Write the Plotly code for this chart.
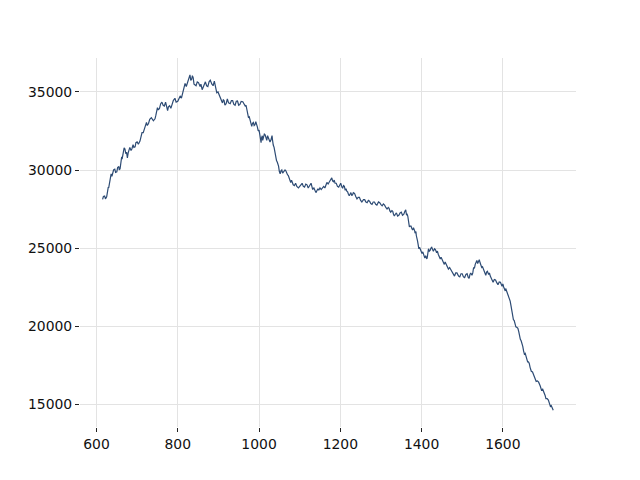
import plotly.graph_objects as go

x_values = [615, 620, 625, 629, 632, 636, 640, 645, 650, 655, 658, 662, 665, 668, 672, 676, 680, 685, 690, 695,
            700, 707, 712, 718, 723, 728, 735, 744, 748, 752, 758, 764, 770, 775, 780, 786, 793, 800, 806, 812,
            818, 824, 830, 834, 838, 842, 848, 855, 860, 865, 871, 877, 884, 890, 896, 902, 908, 912, 916, 922,
            929, 935, 941, 947, 953, 960, 966, 970, 974, 978, 982, 986, 990, 994, 998, 1002, 1005, 1008, 1011, 1015,
            1019, 1023, 1027, 1031, 1033, 1035, 1039, 1043, 1048, 1052, 1056, 1060, 1064, 1068, 1072, 1076, 1080, 1084, 1090, 1097,
            1103, 1109, 1115, 1121, 1126, 1130, 1135, 1140, 1145, 1150, 1156, 1162, 1167, 1173, 1179, 1183, 1187, 1193, 1199, 1204,
            1208, 1212, 1216, 1220, 1224, 1228, 1232, 1238, 1244, 1250, 1257, 1263, 1269, 1275, 1281, 1287, 1294, 1300, 1306, 1312,
            1318, 1322, 1327, 1331, 1335, 1341, 1347, 1353, 1359, 1363, 1366, 1369, 1372, 1376, 1380, 1383, 1386, 1389, 1392, 1395,
            1399, 1403, 1407, 1410, 1413, 1416, 1419, 1423, 1427, 1432, 1437, 1441, 1446, 1451, 1456, 1461, 1466, 1472, 1478, 1484,
            1491, 1497, 1503, 1509, 1515, 1519, 1524, 1528, 1532, 1536, 1540, 1544, 1548, 1552, 1556, 1560, 1565, 1569, 1573, 1579,
            1585, 1591, 1598, 1602, 1606, 1609, 1612, 1615, 1618, 1622, 1626, 1630, 1635, 1639, 1643, 1647, 1651, 1655, 1659, 1663,
            1667, 1673, 1679, 1685, 1692, 1698, 1704, 1709, 1715, 1719, 1724]

y_values = [28120, 28330, 28280, 28900, 29180, 29750, 29820, 30050, 29880, 30220, 30080, 30850, 30950, 31420, 31050, 30780, 31300, 31250, 31620, 31480,
            31800, 31850, 32400, 32650, 33050, 32980, 33350, 33280, 33800, 33850, 34250, 34150, 34350, 33800, 34120, 34200, 34600, 34400, 34750, 34900,
            35550, 35600, 36100, 35800, 35900, 35450, 35650, 35350, 35150, 35550, 35400, 35650, 35500, 35700, 34950, 34800, 34350, 34500, 34150, 34550,
            34250, 34450, 34150, 34420, 34200, 34380, 34100, 33900, 33350, 33150, 32800, 33050, 32900, 32950, 32500, 32250, 31750, 32200, 32050, 32250,
            31900, 32100, 31800, 32150, 31950, 31600, 31150, 30600, 30250, 29750, 30000, 29850, 30000, 29800, 29650, 29300, 29350, 29050, 29150, 28850,
            29100, 28950, 29100, 28850, 29050, 28950, 28850, 28550, 28800, 28850, 28900, 28850, 29200, 29250, 29500, 29250, 29150, 28950, 29100, 28900,
            29000, 28700, 28650, 28450, 28450, 28380, 28550, 28300, 28250, 28050, 28100, 27950, 28050, 27850, 27950, 27800, 27950, 27780, 27820, 27600,
            27600, 27380, 27400, 27150, 27150, 27050, 27250, 27100, 27350, 27100, 27050, 26550, 26400, 26250, 26300, 26100, 26050, 25650, 25150, 25050,
            24800, 24750, 24450, 24500, 24300, 24700, 24800, 25000, 24900, 24950, 24700, 24600, 24300, 24250, 23950, 23900, 23650, 23600, 23300, 23400,
            23200, 23350, 23150, 23300, 23100, 23300, 23250, 23750, 23950, 24200, 24150, 24050, 23750, 23650, 23350, 23450, 23300, 23200, 22900, 22980,
            22780, 22820, 22550, 22500, 22250, 22250, 22050, 21850, 21600, 20900, 20400, 20200, 19900, 19650, 19150, 18900, 18400, 18250, 17850, 17700,
            17350, 17050, 16600, 16480, 16150, 15950, 15550, 15350, 15000, 14900, 14600]

# additional readings between the points above (the fine jagged texture)
x_between = [617, 622, 627, 630, 634, 638, 642, 647, 652, 656, 660, 663, 666, 670, 674, 678, 682, 687, 692, 697,
             703, 710, 715, 720, 725, 731, 740, 746, 750, 755, 761, 767, 772, 777, 783, 789, 796, 803, 809, 815,
             821, 827, 832, 836, 840, 845, 851, 857, 862, 868, 874, 880, 887, 893, 899, 905, 910, 914, 919, 925,
             932, 938, 944, 950, 956, 963, 968, 972, 976, 980, 984, 988, 992, 996, 1000, 1003, 1006, 1009, 1013, 1017,
             1021, 1025, 1029, 1032, 1034, 1037, 1041, 1045, 1050, 1054, 1058, 1062, 1066, 1070, 1074, 1078, 1082, 1087, 1093, 1100,
             1106, 1112, 1118, 1123, 1128, 1132, 1137, 1142, 1147, 1153, 1159, 1164, 1170, 1176, 1181, 1185, 1190, 1196, 1201, 1206,
             1210, 1214, 1218, 1222, 1226, 1230, 1235, 1241, 1247, 1253, 1260, 1266, 1272, 1278, 1284, 1290, 1297, 1303, 1309, 1315,
             1320, 1324, 1329, 1333, 1338, 1344, 1350, 1356, 1361, 1364, 1367, 1370, 1374, 1378, 1381, 1384, 1387, 1390, 1393, 1397,
             1401, 1405, 1408, 1411, 1414, 1417, 1421, 1425, 1429, 1434, 1439, 1443, 1448, 1453, 1458, 1463, 1469, 1475, 1481, 1487,
             1494, 1500, 1506, 1512, 1517, 1521, 1526, 1530, 1534, 1538, 1542, 1546, 1550, 1554, 1558, 1562, 1567, 1571, 1576, 1582,
             1588, 1594, 1600, 1604, 1607, 1610, 1613, 1616, 1620, 1624, 1628, 1632, 1637, 1641, 1645, 1649, 1653, 1657, 1661, 1665,
             1670, 1676, 1682, 1688, 1695, 1701, 1706, 1712, 1717, 1721]

y_between = [28300, 28150, 28700, 28850, 29600, 29600, 30000, 29850, 30150, 30000, 30600, 30700, 31300, 31350, 31150, 31100, 31450, 31350, 31450, 31750,
             31650, 32200, 32400, 32900, 32850, 33250, 33150, 33500, 34000, 33950, 34350, 34100, 34150, 34050, 33950, 34450, 34350, 34650, 34600, 35300,
             35350, 35700, 35750, 36050, 35500, 35400, 35600, 35500, 35300, 35650, 35350, 35750, 35400, 35400, 35000, 34650, 34300, 34450, 34250, 34300,
             34450, 34200, 34400, 34150, 34400, 34200, 34150, 33550, 33400, 32850, 33000, 32850, 33100, 32750, 32550, 32050, 32050, 31900, 32300, 31950,
             32200, 32000, 31900, 32200, 31700, 31450, 30750, 30500, 29900, 29950, 29800, 29950, 29950, 29700, 29450, 29200, 29200, 29000, 28950, 28950,
             29150, 28900, 29050, 28950, 29150, 28750, 28750, 28650, 28700, 28750, 28950, 29050, 29100, 29350, 29300, 29350, 29150, 28900, 29150, 28850,
             28950, 28800, 28600, 28350, 28550, 28400, 28500, 28150, 28250, 27950, 28100, 27900, 28000, 27800, 27950, 27750, 27900, 27700, 27750, 27500,
             27550, 27300, 27350, 27050, 27250, 27100, 27300, 27150, 27450, 27200, 26750, 26350, 26400, 26150, 26250, 25950, 25800, 25450, 24950, 24950,
             24650, 24600, 24350, 24450, 24400, 24950, 24850, 25050, 24800, 24900, 24800, 24500, 24400, 24050, 24100, 23750, 23750, 23450, 23200, 23400,
             23150, 23350, 23100, 23350, 23050, 23400, 23400, 23700, 24150, 24000, 24250, 23850, 23800, 23550, 23250, 23500, 23400, 23100, 22800, 22950,
             22650, 22800, 22700, 22350, 22400, 22150, 22000, 21750, 21300, 20600, 20350, 19950, 19850, 19300, 19050, 18700, 18200, 18100, 17700, 17600,
             17100, 16850, 16450, 16400, 15900, 15800, 15350, 15250, 14850, 14800]

x_ticks = [600, 800, 1000, 1200, 1400, 1600]
y_ticks = [15000, 20000, 25000, 30000, 35000]

points = sorted(list(zip(x_values, y_values)) + list(zip(x_between, y_between)))
line_x = [p[0] for p in points]
line_y = [p[1] for p in points]

fig = go.Figure()
fig.add_trace(go.Scatter(x=line_x, y=line_y, mode="lines",
                         line=dict(color="#2d4b74", width=1.2), showlegend=False))

axis_common = dict(showgrid=True, gridcolor="#e3e3e3", gridwidth=1, zeroline=False,
                   showline=False, ticks="outside", ticklen=4, tickcolor="#222222", tickwidth=1,
                   tickfont=dict(family="DejaVu Sans", size=13.9, color="#111111"))

fig.update_layout(
    width=640, height=480,
    margin=dict(l=72, r=72, t=50, b=61),
    paper_bgcolor="white", plot_bgcolor="white",
    xaxis=dict(range=[559.4, 1780], tickvals=x_ticks, ticktext=[str(v) for v in x_ticks], **axis_common),
    yaxis=dict(range=[13526, 37179], tickvals=y_ticks, ticktext=[str(v) for v in y_ticks], **axis_common),
)

fig.write_html("out.html")
